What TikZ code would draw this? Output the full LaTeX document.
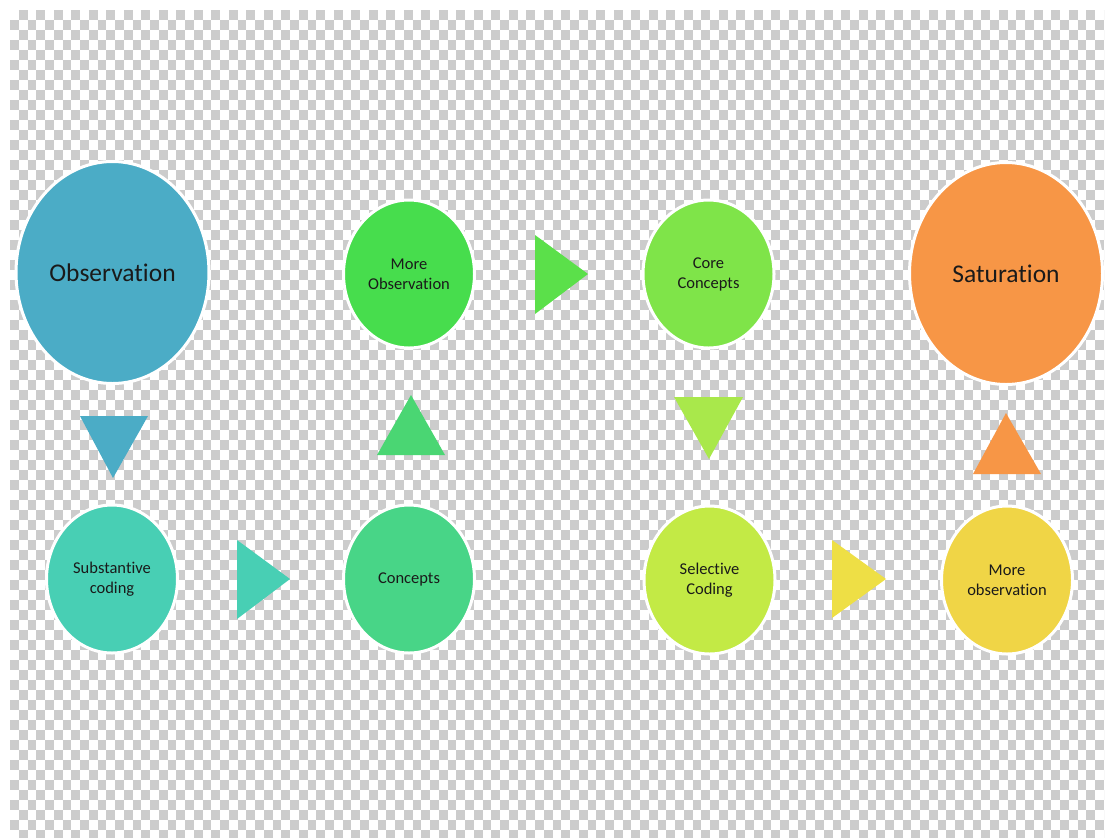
\documentclass[tikz,border=0pt]{standalone}
\usepackage{fontspec}
\setmainfont{Carlito}[Ligatures=CommonOff]
\usetikzlibrary{shapes.geometric}

\definecolor{chkgray}{HTML}{CCCCCC}
\definecolor{cobs}{HTML}{4BACC6}
\definecolor{csat}{HTML}{F79646}
\definecolor{csub}{HTML}{48CFB4}
\definecolor{ccon}{HTML}{48D587}
\definecolor{cmore}{HTML}{47DD4D}
\definecolor{ccore}{HTML}{7FE449}
\definecolor{csel}{HTML}{C3EA45}
\definecolor{cmob}{HTML}{F0D546}
\definecolor{tgreenup}{HTML}{4AD673}
\definecolor{tgreenr}{HTML}{5BE04A}
\definecolor{tyg}{HTML}{A9E84B}
\definecolor{tyel}{HTML}{EEDF45}
\definecolor{txt}{HTML}{1A1A1A}

\begin{document}
\begin{tikzpicture}[x=1pt,y=-1pt,
  bubble/.style={ellipse, draw=white, line width=3pt, inner sep=0pt,
    align=center, text=txt},
  bigbubble/.style={bubble, minimum width=193pt, minimum height=222pt,
    font=\fontsize{25.5}{30}\selectfont},
  smallbubble/.style={bubble, minimum width=131pt, minimum height=148pt,
    font=\fontsize{16.5}{20}\selectfont}
]
\useasboundingbox (0,0) rectangle (1105,839);
\fill[white] (0,0) rectangle (1105,839);

% transparency checkerboard
\begin{scope}
  \clip (10,10) rectangle (1104,837);
  \foreach \r in {0,2,...,82}
    \draw[chkgray, line width=10pt, dash pattern=on 8.75pt off 8.75pt, dash phase=8.75pt]
      (10,15+10*\r) -- (1104,15+10*\r);
  \foreach \r in {1,3,...,81}
    \draw[chkgray, line width=10pt, dash pattern=on 8.75pt off 8.75pt]
      (10,15+10*\r) -- (1104,15+10*\r);
\end{scope}

% process stages
\node[bigbubble, fill=cobs] (obs) at (112.5,272.5) {Observation};
\node[smallbubble, fill=cmore] (more) at (409,274) {More\\Observation};
\node[smallbubble, fill=ccore] (core) at (708.5,274) {Core\\Concepts};
\node[bigbubble, fill=csat] (sat) at (1006,273.5) {Saturation};
\node[smallbubble, fill=csub] (sub) at (112,579) {Substantive\\coding};
\node[smallbubble, fill=ccon] (con) at (409,579) {Concepts};
\node[smallbubble, fill=csel] (sel) at (709.5,580) {Selective\\Coding};
\node[smallbubble, fill=cmob] (mob) at (1007,580) {More\\observation};

% triangular arrows between stages
\fill[cobs] (80,416) -- (148,416) -- (113,478) -- cycle;
\fill[csub] (237,540) -- (237,619) -- (290,579) -- cycle;
\fill[tgreenup] (377,455) -- (445,455) -- (411,395) -- cycle;
\fill[tgreenr] (535,235) -- (535,314) -- (588,274) -- cycle;
\fill[tyg] (674,397) -- (743,397) -- (709,459) -- cycle;
\fill[tyel] (832,540) -- (832,618) -- (886,579) -- cycle;
\fill[csat] (973,474) -- (1041,474) -- (1006,413) -- cycle;
\end{tikzpicture}
\end{document}
